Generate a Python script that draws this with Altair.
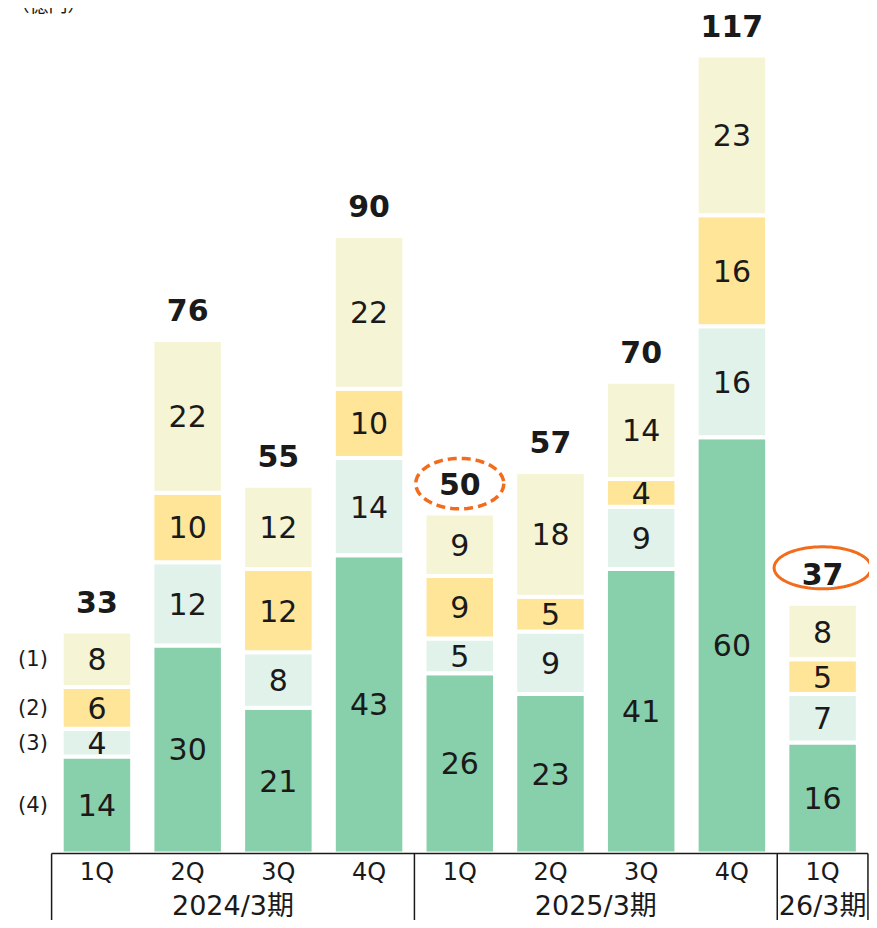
import altair as alt
import pandas as pd
import numpy as np

quarters = ["1Q", "2Q", "3Q", "4Q", "1Q", "2Q", "3Q", "4Q", "1Q"]
periods = ["2024/3期"] * 4 + ["2025/3期"] * 4 + ["26/3期"]
seg4 = [14, 30, 21, 43, 26, 23, 41, 60, 16]
seg3 = [4, 12, 8, 14, 5, 9, 9, 16, 7]
seg2 = [6, 10, 12, 10, 9, 5, 4, 16, 5]
seg1 = [8, 22, 12, 22, 9, 18, 14, 23, 8]
totals = [33, 76, 55, 90, 50, 57, 70, 117, 37]
series_names = ["(4)", "(3)", "(2)", "(1)"]
series_colors = ["#88CFAB", "#E1F2EA", "#FFE597", "#F5F5D5"]
unit_label = "（億円）"

FONT = "DejaVu Sans, Noto Sans CJK JP"
CJK = "Noto Sans CJK JP"

# layout in data units
Q_ROW = -2.75
P_ROW = -7.75
AXIS_BOTTOM = -12.5
X_DOMAIN = [-0.9255, 8.4564]
Y_DOMAIN = [-8.851, 121.14]


def ellipse_path(ratio, n=90):
    t = np.linspace(0, 2 * np.pi, n, endpoint=False)
    pts = [f"{np.cos(a):.4f} {ratio * np.sin(a):.4f}" for a in t]
    return "M " + " L ".join(pts) + " Z"


rows = []
for i in range(len(quarters)):
    base = 0
    for name, vals in zip(series_names, [seg4, seg3, seg2, seg1]):
        v = vals[i]
        rows.append({"idx": i, "series": name, "value": v, "y0": base,
                     "y1": base + v, "mid": base + v / 2})
        base += v
seg_df = pd.DataFrame(rows)

top_df = seg_df.groupby("idx", as_index=False)["y1"].max().rename(columns={"y1": "top"})
top_df["total"] = totals
top_df["quarter"] = quarters
top_df["period"] = periods
top_df["qrow"] = Q_ROW

period_df = top_df.groupby("period", as_index=False, sort=False)["idx"].mean()
period_df["prow"] = P_ROW
bounds = []
prev = None
for i, p in enumerate(periods):
    if p != prev:
        bounds.append(i - 0.5)
    prev = p
bounds.append(len(periods) - 0.5)
vline_df = pd.DataFrame({"x": bounds, "y": [0.0] * len(bounds), "y2": [AXIS_BOTTOM] * len(bounds)})
hline_df = pd.DataFrame({"x": [-0.5], "x2": [len(periods) - 0.5], "y": [0.0]})
legend_df = seg_df[seg_df["idx"] == 0].reset_index(drop=True)
hl_dash_df = top_df[top_df["idx"] == 4].reset_index(drop=True)
hl_solid_df = top_df[top_df["idx"] == 8].reset_index(drop=True)
unit_df = pd.DataFrame({"t": [unit_label], "x": [-0.533], "y": [121.3]})

xs = alt.Scale(domain=X_DOMAIN, nice=False, zero=False, padding=0)
ys = alt.Scale(domain=Y_DOMAIN, nice=False, zero=False, padding=0)
X = alt.X("idx:Q", scale=xs, axis=None)

bars = alt.Chart(seg_df).mark_bar(stroke="white", strokeWidth=4, size=70.5).encode(
    x=X,
    y=alt.Y("y1:Q", scale=ys, axis=None),
    y2="y0:Q",
    color=alt.Color("series:N", scale=alt.Scale(domain=series_names, range=series_colors), legend=None),
)

seg_text = alt.Chart(seg_df).mark_text(font=FONT, fontSize=30, color="#1a1a1a", baseline="middle",
                                       yOffset=2).encode(
    x=X, y=alt.Y("mid:Q", scale=ys, axis=None), text="value:Q"
)

tot_text = alt.Chart(top_df).mark_text(font=FONT, fontSize=30, fontWeight="bold", color="#1a1a1a",
                                       baseline="middle", yOffset=-28).encode(
    x=X, y=alt.Y("top:Q", scale=ys, axis=None), text="total:Q"
)

hl_dashed = alt.Chart(hl_dash_df).mark_point(
    shape=ellipse_path(0.573),
    size=7744, filled=False, stroke="#F26C1C", strokeWidth=3.5, strokeDash=[9, 5], opacity=1,
    yOffset=-30,
).encode(x=X, y=alt.Y("top:Q", scale=ys, axis=None))

hl_solid = alt.Chart(hl_solid_df).mark_point(
    shape=ellipse_path(0.433),
    size=9409, filled=False, stroke="#F26C1C", strokeWidth=3, opacity=1,
    yOffset=-36,
).encode(x=X, y=alt.Y("top:Q", scale=ys, axis=None))

legend_text = alt.Chart(legend_df).mark_text(font=FONT, fontSize=21, color="#1a1a1a",
                                            baseline="middle", xOffset=-64, yOffset=1).encode(
    x=X, y=alt.Y("mid:Q", scale=ys, axis=None), text="series:N"
)

hline = alt.Chart(hline_df).mark_rule(color="#1a1a1a", strokeWidth=1.5).encode(
    x=alt.X("x:Q", scale=xs, axis=None), x2="x2:Q", y=alt.Y("y:Q", scale=ys, axis=None)
)
vlines = alt.Chart(vline_df).mark_rule(color="#1a1a1a", strokeWidth=1.5).encode(
    x=alt.X("x:Q", scale=xs, axis=None), y=alt.Y("y:Q", scale=ys, axis=None), y2="y2:Q"
)

q_text = alt.Chart(top_df).mark_text(font=FONT, fontSize=24, color="#1a1a1a", baseline="middle").encode(
    x=X, y=alt.Y("qrow:Q", scale=ys, axis=None), text="quarter:N"
)
p_text = alt.Chart(period_df).mark_text(font=FONT, fontSize=27, color="#1a1a1a", baseline="middle").encode(
    x=alt.X("idx:Q", scale=xs, axis=None), y=alt.Y("prow:Q", scale=ys, axis=None), text="period:N"
)

unit_text = alt.Chart(unit_df).mark_text(
    font=CJK, fontSize=19, color="#1a1a1a", baseline="alphabetic"
).encode(x=alt.X("x:Q", scale=xs, axis=None), y=alt.Y("y:Q", scale=ys, axis=None), text="t:N")

chart = alt.layer(
    bars, seg_text, tot_text, hl_dashed, hl_solid, legend_text, hline, vlines, q_text, p_text, unit_text
).properties(
    width=851, height=902, autosize=alt.AutoSizeParams(type="none"), padding=5
).configure_view(stroke=None)

chart.save("out.html", embed_options={"renderer": "svg", "actions": False})
